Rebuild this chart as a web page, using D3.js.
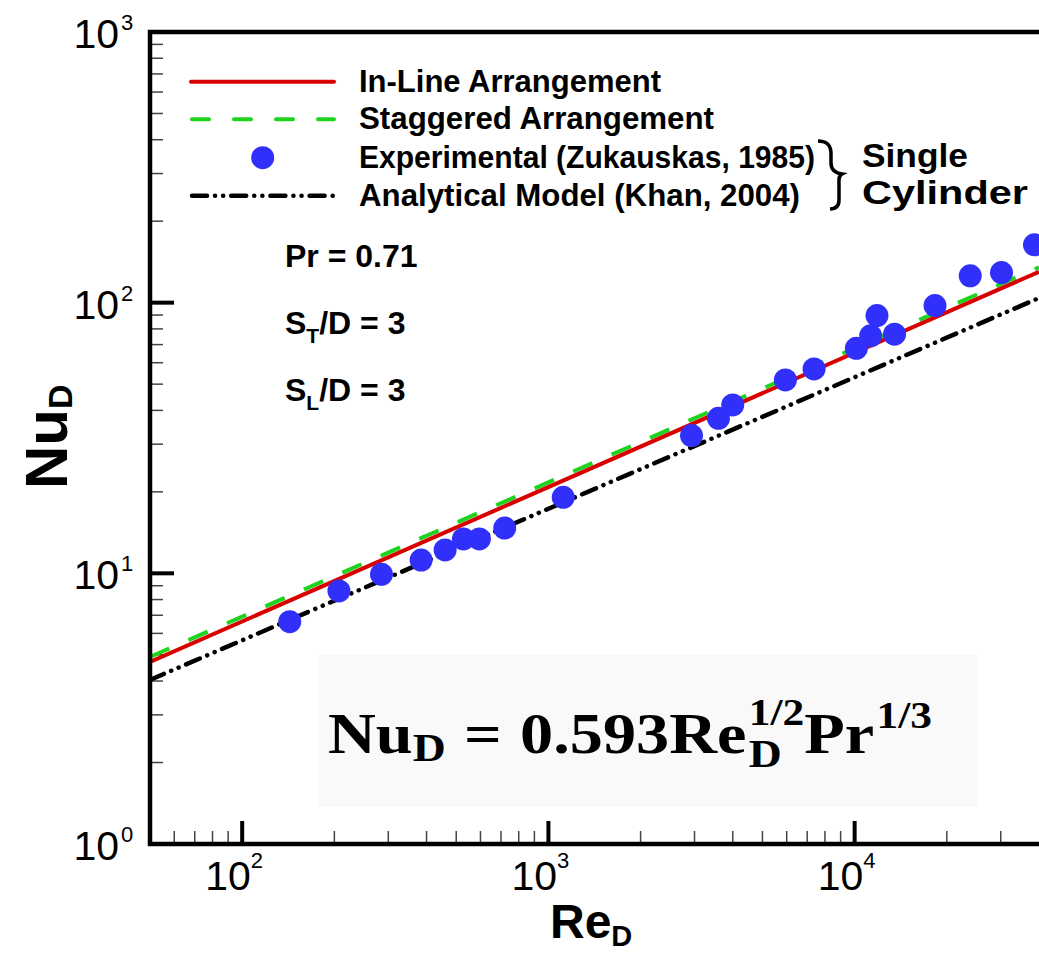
<!DOCTYPE html>
<html>
<head>
<meta charset="utf-8">
<script src="https://cdn.jsdelivr.net/npm/d3@7"></script>
<style>
  html, body { margin: 0; padding: 0; background: #fff; }
</style>
</head>
<body>
<div id="chart"></div>
<script>
const reExp = [143, 207, 285, 384, 460, 528, 595, 720, 1118, 2933, 3592, 3999,
               5941, 7371, 10130, 11280, 11830, 13500, 18300, 23850, 30170, 38660];
const nuExp = [6.63, 8.61, 9.92, 11.2, 12.2, 13.4, 13.4, 14.7, 19.1, 32.3, 37.4, 41.9,
               51.8, 56.9, 67.8, 75.4, 89.6, 76.5, 97.6, 125.6, 129.2, 163.6];

// correlation lines (end points)
const reLine = [50, 40000];
const nuInLine = [4.71, 130];
const nuStaggered = [4.91, 135];
const nuAnalytical = [4.04, 104];

// axis ticks
const xMajor = [100, 1000, 10000];
const xMajorExp = ["2", "3", "4"];
const yMajor = [1, 10, 100, 1000];
const yMajorExp = ["0", "1", "2", "3"];

const legendLabels = [
    "In-Line Arrangement",
    "Staggered Arrangement",
    "Experimental (Zukauskas, 1985)",
    "Analytical Model (Khan, 2004)"
];
const infoLines = [["Pr = 0.71"], ["S", "T", "/D = 3"], ["S", "L", "/D = 3"]];

const SANS = "'Liberation Sans', Arial, Helvetica, sans-serif";
const SERIF = "'Liberation Serif', 'DejaVu Serif', serif";

function renderNusseltChart(containerId) {
    const W = 1039, H = 953;
    const plot = { left: 150, right: 1039, top: 32, bottom: 844 };

    d3.select(`#${containerId}`).selectAll("*").remove();

    const svg = d3.select(`#${containerId}`)
        .append("svg")
        .attr("width", W)
        .attr("height", H)
        .style("font-family", SANS);

    const xScale = d3.scaleLog()
        .domain([50, 40000])
        .range([plot.left, plot.right]);

    const yScale = d3.scaleLog()
        .domain([1, 1000])
        .range([plot.bottom, plot.top]);

    // equation background box
    svg.append("rect")
        .attr("x", 318).attr("y", 655)
        .attr("width", 660).attr("height", 152)
        .attr("fill", "#f9f9f9");

    // minor ticks
    const xMinor = [];
    [10, 100, 1000, 10000].forEach(dec => {
        for (let k = 2; k <= 9; k++) {
            const v = k * dec;
            if (v > 50 && v < 40000) xMinor.push(v);
        }
    });
    const yMinor = [];
    [1, 10, 100].forEach(dec => {
        for (let k = 2; k <= 9; k++) yMinor.push(k * dec);
    });

    svg.append("g")
        .selectAll("line")
        .data(xMinor)
        .enter()
        .append("line")
        .attr("x1", d => xScale(d)).attr("x2", d => xScale(d))
        .attr("y1", plot.bottom).attr("y2", plot.bottom - 13)
        .attr("stroke", "#444").attr("stroke-width", 1.5);

    svg.append("g")
        .selectAll("line")
        .data(yMinor)
        .enter()
        .append("line")
        .attr("x1", plot.left).attr("x2", plot.left + 13)
        .attr("y1", d => yScale(d)).attr("y2", d => yScale(d))
        .attr("stroke", "#444").attr("stroke-width", 1.5);

    // major ticks
    svg.append("g")
        .selectAll("line")
        .data(xMajor)
        .enter()
        .append("line")
        .attr("x1", d => xScale(d)).attr("x2", d => xScale(d))
        .attr("y1", plot.bottom).attr("y2", plot.bottom - 23)
        .attr("stroke", "#000").attr("stroke-width", 4);

    svg.append("g")
        .selectAll("line")
        .data(yMajor.slice(1, 3))
        .enter()
        .append("line")
        .attr("x1", plot.left).attr("x2", plot.left + 24)
        .attr("y1", d => yScale(d)).attr("y2", d => yScale(d))
        .attr("stroke", "#000").attr("stroke-width", 4);

    // tick labels
    const xLab = svg.append("g")
        .selectAll("text")
        .data(xMajor)
        .enter()
        .append("text")
        .attr("x", d => xScale(d) - 8)
        .attr("y", 890)
        .attr("text-anchor", "middle")
        .attr("font-size", 41);
    xLab.append("tspan").text("10");
    xLab.append("tspan")
        .attr("font-size", 22)
        .attr("dy", -22)
        .text((d, i) => xMajorExp[i]);

    svg.append("g")
        .selectAll("text")
        .data(yMajor)
        .enter()
        .append("text")
        .attr("x", 119)
        .attr("y", d => yScale(d) + 16)
        .attr("text-anchor", "end")
        .attr("font-size", 41)
        .text("10");
    svg.append("g")
        .selectAll("text")
        .data(yMajor)
        .enter()
        .append("text")
        .attr("x", 121)
        .attr("y", d => yScale(d) - 2)
        .attr("font-size", 22)
        .text((d, i) => yMajorExp[i]);

    // series lines
    const line = d3.line()
        .x(d => xScale(d[0]))
        .y(d => yScale(d[1]));

    svg.append("clipPath").attr("id", "plot-clip")
        .append("rect")
        .attr("x", plot.left).attr("y", plot.top)
        .attr("width", plot.right - plot.left).attr("height", plot.bottom - plot.top);

    const lines = svg.append("g").attr("clip-path", "url(#plot-clip)");

    lines.append("path")
        .datum(d3.zip(reLine, nuAnalytical))
        .attr("fill", "none")
        .attr("stroke", "#000")
        .attr("stroke-width", 4.5)
        .attr("stroke-linecap", "round")
        .attr("stroke-dasharray", "15 8 0.1 8 0.1 8")
        .attr("d", line);

    lines.append("path")
        .datum(d3.zip(reLine, nuStaggered))
        .attr("fill", "none")
        .attr("stroke", "#1ed31e")
        .attr("stroke-width", 4)
        .attr("stroke-dasharray", "21 21")
        .attr("d", line);

    lines.append("path")
        .datum(d3.zip(reLine, nuInLine))
        .attr("fill", "none")
        .attr("stroke", "#d90000")
        .attr("stroke-width", 4)
        .attr("d", line);

    svg.append("g")
        .selectAll("circle")
        .data(d3.zip(reExp, nuExp))
        .enter()
        .append("circle")
        .attr("cx", d => xScale(d[0]))
        .attr("cy", d => yScale(d[1]))
        .attr("r", 11.5)
        .attr("fill", "#3030fa");

    // frame: left, bottom, top
    svg.append("path")
        .attr("d", `M${plot.right},${plot.top}H${plot.left}V${plot.bottom}H${plot.right}`)
        .attr("fill", "none")
        .attr("stroke", "#000")
        .attr("stroke-width", 4.5);

    // legend
    const legY = [81.7, 119.3, 157.7, 195.7];
    const legLen = [302, 355, 456, 441];
    const leg = svg.append("g");
    leg.append("line")
        .attr("x1", 191).attr("x2", 334).attr("y1", legY[0]).attr("y2", legY[0])
        .attr("stroke", "#d90000").attr("stroke-width", 4).attr("stroke-linecap", "round");
    leg.append("line")
        .attr("x1", 192).attr("x2", 334).attr("y1", legY[1]).attr("y2", legY[1])
        .attr("stroke", "#1ed31e").attr("stroke-width", 4).attr("stroke-linecap", "round")
        .attr("stroke-dasharray", "17 25");
    leg.append("circle")
        .attr("cx", 262.7).attr("cy", legY[2]).attr("r", 11.5)
        .attr("fill", "#3030fa");
    leg.append("line")
        .attr("x1", 192).attr("x2", 334).attr("y1", legY[3]).attr("y2", legY[3])
        .attr("stroke", "#000").attr("stroke-width", 4.5).attr("stroke-linecap", "round")
        .attr("stroke-dasharray", "15 8 0.1 8 0.1 8");

    leg.selectAll("text.leg")
        .data(legendLabels)
        .enter()
        .append("text")
        .attr("class", "leg")
        .attr("x", 359)
        .attr("y", (d, i) => legY[i] + 10)
        .attr("font-size", 31)
        .attr("font-weight", "bold")
        .attr("textLength", (d, i) => legLen[i])
        .attr("lengthAdjust", "spacingAndGlyphs")
        .text(d => d);

    // brace + Single Cylinder
    leg.append("path")
        .attr("d", "M818,141 C828,141 831,146 831,154 L831,163 C831,170 835,173 842,174 " +
                   "C838,176 839,180 839,186 L839,200 C839,206 836,209 830,209")
        .attr("fill", "none")
        .attr("stroke", "#000")
        .attr("stroke-width", 3.5);
    leg.append("text")
        .attr("x", 862).attr("y", 167)
        .attr("font-size", 34).attr("font-weight", "bold")
        .attr("textLength", 106).attr("lengthAdjust", "spacingAndGlyphs")
        .text("Single");
    leg.append("text")
        .attr("x", 862).attr("y", 204)
        .attr("font-size", 34).attr("font-weight", "bold")
        .attr("textLength", 166).attr("lengthAdjust", "spacingAndGlyphs")
        .text("Cylinder");

    // parameters
    const infoY = [267, 334, 401];
    infoLines.forEach((parts, i) => {
        const t = svg.append("text")
            .attr("x", 285).attr("y", infoY[i])
            .attr("font-size", 32).attr("font-weight", "bold");
        if (parts.length === 1) {
            t.text(parts[0]);
        } else {
            t.append("tspan").text(parts[0]);
            t.append("tspan").attr("font-size", 21).attr("dy", 9).text(parts[1]);
            t.append("tspan").attr("dy", -9).text(parts[2]);
        }
    });

    // axis titles
    const xt = svg.append("text")
        .attr("x", 550).attr("y", 938)
        .attr("font-size", 48).attr("font-weight", "bold");
    xt.append("tspan").text("Re");
    xt.append("tspan").attr("font-size", 29).attr("dy", 8).text("D");

    const yt = svg.append("text")
        .attr("transform", "translate(67,489) rotate(-90)")
        .attr("font-size", 60).attr("font-weight", "bold");
    yt.append("tspan").text("Nu");
    yt.append("tspan").attr("font-size", 34).attr("dy", 5).text("D");

    // equation Nu_D = 0.593 Re_D^{1/2} Pr^{1/3}
    const eq = svg.append("g").style("font-family", SERIF);
    let cx = 0;
    function piece(txt, size, dy, advance) {
        const t = eq.append("text")
            .attr("x", cx).attr("y", dy)
            .attr("font-weight", "bold")
            .attr("font-size", size)
            .text(txt);
        const w = t.node().getComputedTextLength();
        if (advance !== false) cx += w;
        return w;
    }
    piece("Nu", 58, 0);
    piece("D", 40, 8);
    cx += 16;
    piece("=", 58, 0);
    cx += 16;
    piece("0.593Re", 58, 0);
    cx += 2;
    const wD = piece("D", 40, 14, false);
    const wH = piece("1/2", 38, -28);
    cx = Math.max(cx, cx - wH + wD);
    piece("Pr", 58, 0);
    cx += 2;
    piece("1/3", 38, -25);
    const eqScale = (932 - 328) / cx;
    eq.attr("transform", `translate(328,753) scale(${eqScale},1)`);
}

renderNusseltChart("chart");
</script>
</body>
</html>
